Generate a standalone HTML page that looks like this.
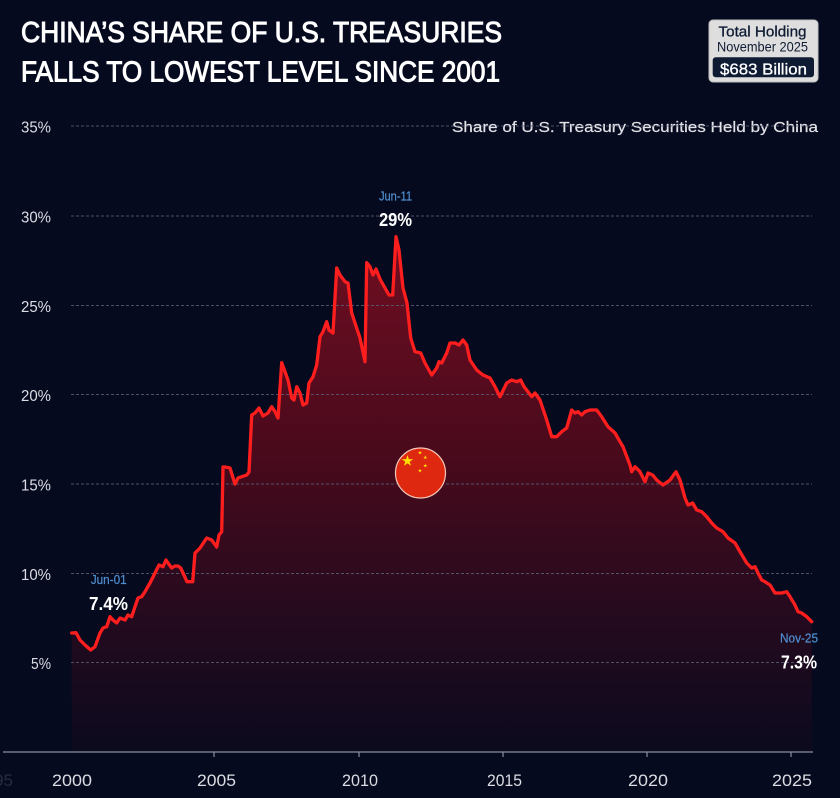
<!DOCTYPE html>
<html><head><meta charset="utf-8">
<style>
html,body{margin:0;padding:0;background:#060a1e;}
svg{display:block;}
text{font-family:"Liberation Sans",sans-serif;}
</style></head>
<body>
<svg width="840" height="798" viewBox="0 0 840 798" xmlns="http://www.w3.org/2000/svg">
<defs>
<linearGradient id="fg" x1="0" y1="230" x2="0" y2="752" gradientUnits="userSpaceOnUse">
<stop offset="0" stop-color="#720e22"/>
<stop offset="0.42" stop-color="#4a0a1c"/>
<stop offset="0.75" stop-color="#240a1e"/>
<stop offset="1" stop-color="#0c0a1e"/>
</linearGradient>
</defs>
<rect width="840" height="798" fill="#060a1e"/>

<!-- title -->
<text x="21" y="42" font-size="29" fill="#fff" stroke="#fff" stroke-width="1" textLength="481" lengthAdjust="spacingAndGlyphs">CHINA’S SHARE OF U.S. TREASURIES</text>
<text x="21" y="81.5" font-size="29" fill="#fff" stroke="#fff" stroke-width="1" textLength="479" lengthAdjust="spacingAndGlyphs">FALLS TO LOWEST LEVEL SINCE 2001</text>

<!-- holding box -->
<rect x="709" y="20" width="109" height="62" rx="4" fill="#dedede" stroke="#bfbfbf" stroke-width="1"/>
<text x="762.5" y="36.7" font-size="15" fill="#0e1b33" stroke="#0e1b33" stroke-width="0.3" text-anchor="middle" textLength="88" lengthAdjust="spacingAndGlyphs">Total Holding</text>
<text x="762.5" y="51.7" font-size="14" fill="#0e1b33" text-anchor="middle" textLength="91" lengthAdjust="spacingAndGlyphs">November 2025</text>
<rect x="712.7" y="57.3" width="101.3" height="20" rx="3" fill="#0e1b33"/>
<text x="763.5" y="74.5" font-size="16" fill="#fff" stroke="#fff" stroke-width="0.3" text-anchor="middle" textLength="87" lengthAdjust="spacingAndGlyphs">$683 Billion</text>

<!-- subtitle -->
<text x="452" y="132" font-size="15" fill="#e2e2e8" stroke="#e2e2e8" stroke-width="0.2" textLength="366" lengthAdjust="spacingAndGlyphs">Share of U.S. Treasury Securities Held by China</text>

<!-- fill -->
<polygon fill="url(#fg)" points="71.7,633 76,632.7 80,640 85,645 90.7,650 95,646.7 100,633 103,628 106.7,626.7 110,616.7 113,620 116.7,623 120,618 125,620 128,615 131.7,616.7 135,606.7 138,598 141.7,596.7 145,591.7 150,583 155,573 159,565 163,566.7 166,560 168,563 171.7,568 175,566 178,566 180.7,568 184,575 187,581.7 192.7,581.7 195,553 200,548 206.7,538 211.7,540 216.7,547 219,535 221.7,531.7 223,467 225,467 230,468 235,484 238,478 241.7,476.7 246.7,475 249,472 251.7,415 255,413 259,408 263,416 268,413 271.7,406.7 275,411.7 278,418 281.7,362.7 285,371.7 288,380 291.7,398 294,400 296.7,386.7 300,393 303,405 306.7,403 309,383 313,376.7 316.7,365 320,336.7 323,331.7 326.7,321.7 329,330 333,333 336.7,268 340,275 345,281.7 348,283 351.7,313 355,323 360,338 365,361.7 366.7,262.7 370,266.7 373,275 376,269 380,279 385,288 389,295 392.7,295 396,236.7 399,250 403,288 407,303 410.7,338 415,351.7 420.7,353 425,363 431.7,375 436.7,368 439,361.7 441.7,363 446.7,353 450,343 455,343 459,345 463,340 466.7,345 470,360 476.7,370 483,375 490,378 495,386.7 500,396.7 506.7,383 511.7,380 516.7,381.7 520.7,380 524,386.7 528,391.7 531.7,396.7 535,393 540,400 546.7,420 551.7,436.7 556.7,436.7 561.7,431.7 566.7,428 571.7,410 575,413 578,411.7 581.7,415 585,411.7 590,410 596.7,410 601.7,416.7 608,426.7 615,433 620,441.7 623,446.7 630,465 631.7,471.7 635,466.7 640,471.7 645,481.7 648,473 652.7,475 656.7,480 663,485 670,480 676,471.7 680,480 685,498 688,505 692.7,503 696.7,510 701.7,511.7 706.7,516.7 711.7,523 716.7,528 723,531.7 728,538 735,543 740,551.7 746.7,563 751.7,568 755,566.7 758,573 761.7,580 765,581.7 770,585 775,593 781.7,593 786.7,591.7 790,596.7 795,605 798,611.7 801.7,613 806.7,616.7 811.7,621.7 811.7,752 71.7,752"/>

<!-- gridlines -->
<g stroke="#5a5e74" stroke-width="1" stroke-dasharray="3,2" opacity="0.85">
<line x1="71" y1="126" x2="812" y2="126"/>
<line x1="71" y1="216" x2="812" y2="216"/>
<line x1="71" y1="305.5" x2="812" y2="305.5"/>
<line x1="71" y1="394.5" x2="812" y2="394.5"/>
<line x1="71" y1="484" x2="812" y2="484"/>
<line x1="71" y1="573.5" x2="812" y2="573.5"/>
<line x1="71" y1="662.5" x2="812" y2="662.5"/>
</g>

<!-- y labels -->
<g font-size="16" fill="#dcdce4" text-anchor="end">
<text x="51" y="132.5" textLength="30" lengthAdjust="spacingAndGlyphs">35%</text>
<text x="51" y="222.5" textLength="30" lengthAdjust="spacingAndGlyphs">30%</text>
<text x="51" y="312" textLength="30" lengthAdjust="spacingAndGlyphs">25%</text>
<text x="51" y="401" textLength="30" lengthAdjust="spacingAndGlyphs">20%</text>
<text x="51" y="490.5" textLength="30" lengthAdjust="spacingAndGlyphs">15%</text>
<text x="51" y="580" textLength="30" lengthAdjust="spacingAndGlyphs">10%</text>
<text x="51" y="669" textLength="20" lengthAdjust="spacingAndGlyphs">5%</text>
</g>

<!-- line -->
<polyline fill="none" stroke="#ff1e1e" stroke-width="3.3" stroke-linejoin="round" stroke-linecap="round" points="71.7,633 76,632.7 80,640 85,645 90.7,650 95,646.7 100,633 103,628 106.7,626.7 110,616.7 113,620 116.7,623 120,618 125,620 128,615 131.7,616.7 135,606.7 138,598 141.7,596.7 145,591.7 150,583 155,573 159,565 163,566.7 166,560 168,563 171.7,568 175,566 178,566 180.7,568 184,575 187,581.7 192.7,581.7 195,553 200,548 206.7,538 211.7,540 216.7,547 219,535 221.7,531.7 223,467 225,467 230,468 235,484 238,478 241.7,476.7 246.7,475 249,472 251.7,415 255,413 259,408 263,416 268,413 271.7,406.7 275,411.7 278,418 281.7,362.7 285,371.7 288,380 291.7,398 294,400 296.7,386.7 300,393 303,405 306.7,403 309,383 313,376.7 316.7,365 320,336.7 323,331.7 326.7,321.7 329,330 333,333 336.7,268 340,275 345,281.7 348,283 351.7,313 355,323 360,338 365,361.7 366.7,262.7 370,266.7 373,275 376,269 380,279 385,288 389,295 392.7,295 396,236.7 399,250 403,288 407,303 410.7,338 415,351.7 420.7,353 425,363 431.7,375 436.7,368 439,361.7 441.7,363 446.7,353 450,343 455,343 459,345 463,340 466.7,345 470,360 476.7,370 483,375 490,378 495,386.7 500,396.7 506.7,383 511.7,380 516.7,381.7 520.7,380 524,386.7 528,391.7 531.7,396.7 535,393 540,400 546.7,420 551.7,436.7 556.7,436.7 561.7,431.7 566.7,428 571.7,410 575,413 578,411.7 581.7,415 585,411.7 590,410 596.7,410 601.7,416.7 608,426.7 615,433 620,441.7 623,446.7 630,465 631.7,471.7 635,466.7 640,471.7 645,481.7 648,473 652.7,475 656.7,480 663,485 670,480 676,471.7 680,480 685,498 688,505 692.7,503 696.7,510 701.7,511.7 706.7,516.7 711.7,523 716.7,528 723,531.7 728,538 735,543 740,551.7 746.7,563 751.7,568 755,566.7 758,573 761.7,580 765,581.7 770,585 775,593 781.7,593 786.7,591.7 790,596.7 795,605 798,611.7 801.7,613 806.7,616.7 811.7,621.7"/>

<!-- flag -->
<circle cx="420.5" cy="473" r="25" fill="#de2910" stroke="#f3c6b8" stroke-width="1.2"/>
<g fill="#ffde00">
<polygon transform="translate(407.5,461) scale(6)" points="0,-1 0.225,-0.309 0.951,-0.309 0.363,0.118 0.588,0.809 0,0.382 -0.588,0.809 -0.363,0.118 -0.951,-0.309 -0.225,-0.309"/>
<polygon transform="translate(420,452.7) scale(2.1)" points="0,-1 0.225,-0.309 0.951,-0.309 0.363,0.118 0.588,0.809 0,0.382 -0.588,0.809 -0.363,0.118 -0.951,-0.309 -0.225,-0.309"/>
<polygon transform="translate(425.3,457.5) scale(2.1)" points="0,-1 0.225,-0.309 0.951,-0.309 0.363,0.118 0.588,0.809 0,0.382 -0.588,0.809 -0.363,0.118 -0.951,-0.309 -0.225,-0.309"/>
<polygon transform="translate(425.3,465.7) scale(2.1)" points="0,-1 0.225,-0.309 0.951,-0.309 0.363,0.118 0.588,0.809 0,0.382 -0.588,0.809 -0.363,0.118 -0.951,-0.309 -0.225,-0.309"/>
<polygon transform="translate(420,470.7) scale(2.1)" points="0,-1 0.225,-0.309 0.951,-0.309 0.363,0.118 0.588,0.809 0,0.382 -0.588,0.809 -0.363,0.118 -0.951,-0.309 -0.225,-0.309"/>
</g>

<!-- annotations -->
<text x="379" y="200.7" font-size="12.5" fill="#4f8fd0" stroke="#4f8fd0" stroke-width="0.2" textLength="33" lengthAdjust="spacingAndGlyphs">Jun-11</text>
<text x="379" y="226" font-size="18" font-weight="bold" fill="#fff" textLength="33" lengthAdjust="spacingAndGlyphs">29%</text>
<text x="90.7" y="584" font-size="12.5" fill="#4f8fd0" stroke="#4f8fd0" stroke-width="0.2" textLength="36" lengthAdjust="spacingAndGlyphs">Jun-01</text>
<text x="89" y="610" font-size="18" font-weight="bold" fill="#fff" textLength="39" lengthAdjust="spacingAndGlyphs">7.4%</text>
<text x="780" y="642.3" font-size="12.5" fill="#4f8fd0" stroke="#4f8fd0" stroke-width="0.2" textLength="38" lengthAdjust="spacingAndGlyphs">Nov-25</text>
<text x="781" y="668.3" font-size="18" font-weight="bold" fill="#fff" textLength="36" lengthAdjust="spacingAndGlyphs">7.3%</text>

<!-- x axis -->
<line x1="3" y1="752" x2="813" y2="752" stroke="#8a8ea0" stroke-width="1.2"/>
<g stroke="#8a8ea0" stroke-width="1.2">
<line x1="214" y1="752" x2="214" y2="757"/>
<line x1="359" y1="752" x2="359" y2="757"/>
<line x1="503" y1="752" x2="503" y2="757"/>
<line x1="647" y1="752" x2="647" y2="757"/>
<line x1="791" y1="752" x2="791" y2="757"/>
</g>
<g font-size="17" fill="#dcdce4" text-anchor="middle">
<text x="72" y="786" textLength="40" lengthAdjust="spacingAndGlyphs">2000</text>
<text x="216.5" y="786" textLength="39" lengthAdjust="spacingAndGlyphs">2005</text>
<text x="360" y="786" textLength="36" lengthAdjust="spacingAndGlyphs">2010</text>
<text x="504.5" y="786" textLength="35" lengthAdjust="spacingAndGlyphs">2015</text>
<text x="648" y="786" textLength="40" lengthAdjust="spacingAndGlyphs">2020</text>
<text x="792" y="786" textLength="40" lengthAdjust="spacingAndGlyphs">2025</text>
</g>
<text x="13" y="786" font-size="17" fill="#262b40" text-anchor="end">1995</text>
</svg>
</body></html>
